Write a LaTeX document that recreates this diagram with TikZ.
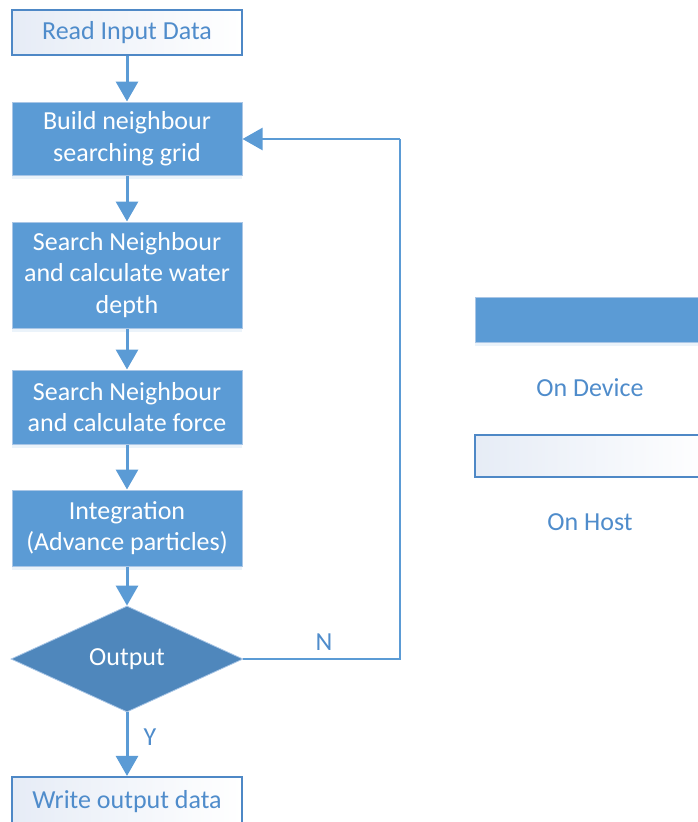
\documentclass[tikz,border=0pt]{standalone}
\usepackage{fontspec}
\setmainfont{Carlito}
\usetikzlibrary{arrows.meta,shapes.geometric,shadows}
\definecolor{devfill}{HTML}{5B9BD5}
\definecolor{devedge}{HTML}{A9C6E6}
\definecolor{decfill}{HTML}{4F87BC}
\definecolor{hostedge}{HTML}{4E88C6}
\definecolor{hostfill}{HTML}{E6ECF6}
\definecolor{linecol}{HTML}{5B9BD5}
\definecolor{txtblue}{HTML}{4F8CCB}
\tikzset{
  base/.style={font=\fontsize{26}{31.5}\selectfont, align=center, inner sep=0pt,
    minimum width=230pt},
  device/.style={base, fill=devfill, draw=devedge, line width=1pt, text=white,
    drop shadow={shadow xshift=0pt, shadow yshift=-4pt, opacity=0.12, fill=devfill}},
  host/.style={base, draw=hostedge, line width=2.2pt, text=txtblue,
    left color=hostfill, right color=white},
  decision/.style={diamond, font=\fontsize{26}{31.5}\selectfont, inner sep=0pt,
    fill=decfill, draw=devedge, line width=0.8pt, text=white,
    minimum width=232pt, minimum height=106pt},
  flow/.style={draw=linecol, line width=3pt,
    -{Triangle[width=22pt,length=20pt]}},
  loopline/.style={draw=linecol, line width=2.4pt},
  lbl/.style={font=\fontsize{26}{31.5}\selectfont, text=txtblue, inner sep=0pt}
}
\begin{document}
\begin{tikzpicture}[x=1pt,y=-1pt]
\useasboundingbox (0,0) rectangle (697,822);

% main column
\node[host, minimum height=45pt] (read) at (127,32.5) {Read Input Data};
\node[device, minimum height=73pt] (grid) at (127,138.5) {Build neighbour\\searching grid};
\node[device, minimum height=106pt] (depth) at (127,275) {Search Neighbour\\and calculate water\\depth};
\node[device, minimum height=74pt] (force) at (127,407) {Search Neighbour\\and calculate force};
\node[device, minimum height=76pt] (integ) at (127,528) {Integration\\(Advance particles)};
\node[decision] (out) at (127,659) {Output};
\node[host, minimum height=50pt] (write) at (127,802) {Write output data};

% connectors
\draw[flow] (read) -- (grid);
\draw[flow] (grid) -- (depth);
\draw[flow] (depth) -- (force);
\draw[flow] (force) -- (integ);
\draw[flow] (integ) -- (out);
\draw[flow] (out) -- (write);
\coordinate (loopbot) at (400,659);
\coordinate (looptop) at (400,139);
\draw[loopline] (out.east) -- (loopbot) -- (looptop);
\draw[flow, line width=2.4pt] (looptop) -- (grid.east |- looptop);

\node[lbl] (ylab) at (150,737) {Y};
\node[lbl] (nlab) at (324,642) {N};

% legend
\node[device, minimum width=240pt, minimum height=45pt] (legdev) at (595,319.5) {};
\node[lbl] (legdevtxt) at (590,388) {On Device};
\node[host, minimum width=240pt, minimum height=42pt] (leghost) at (595,456) {};
\node[lbl] (leghosttxt) at (590,522) {On Host};
\end{tikzpicture}
\end{document}
